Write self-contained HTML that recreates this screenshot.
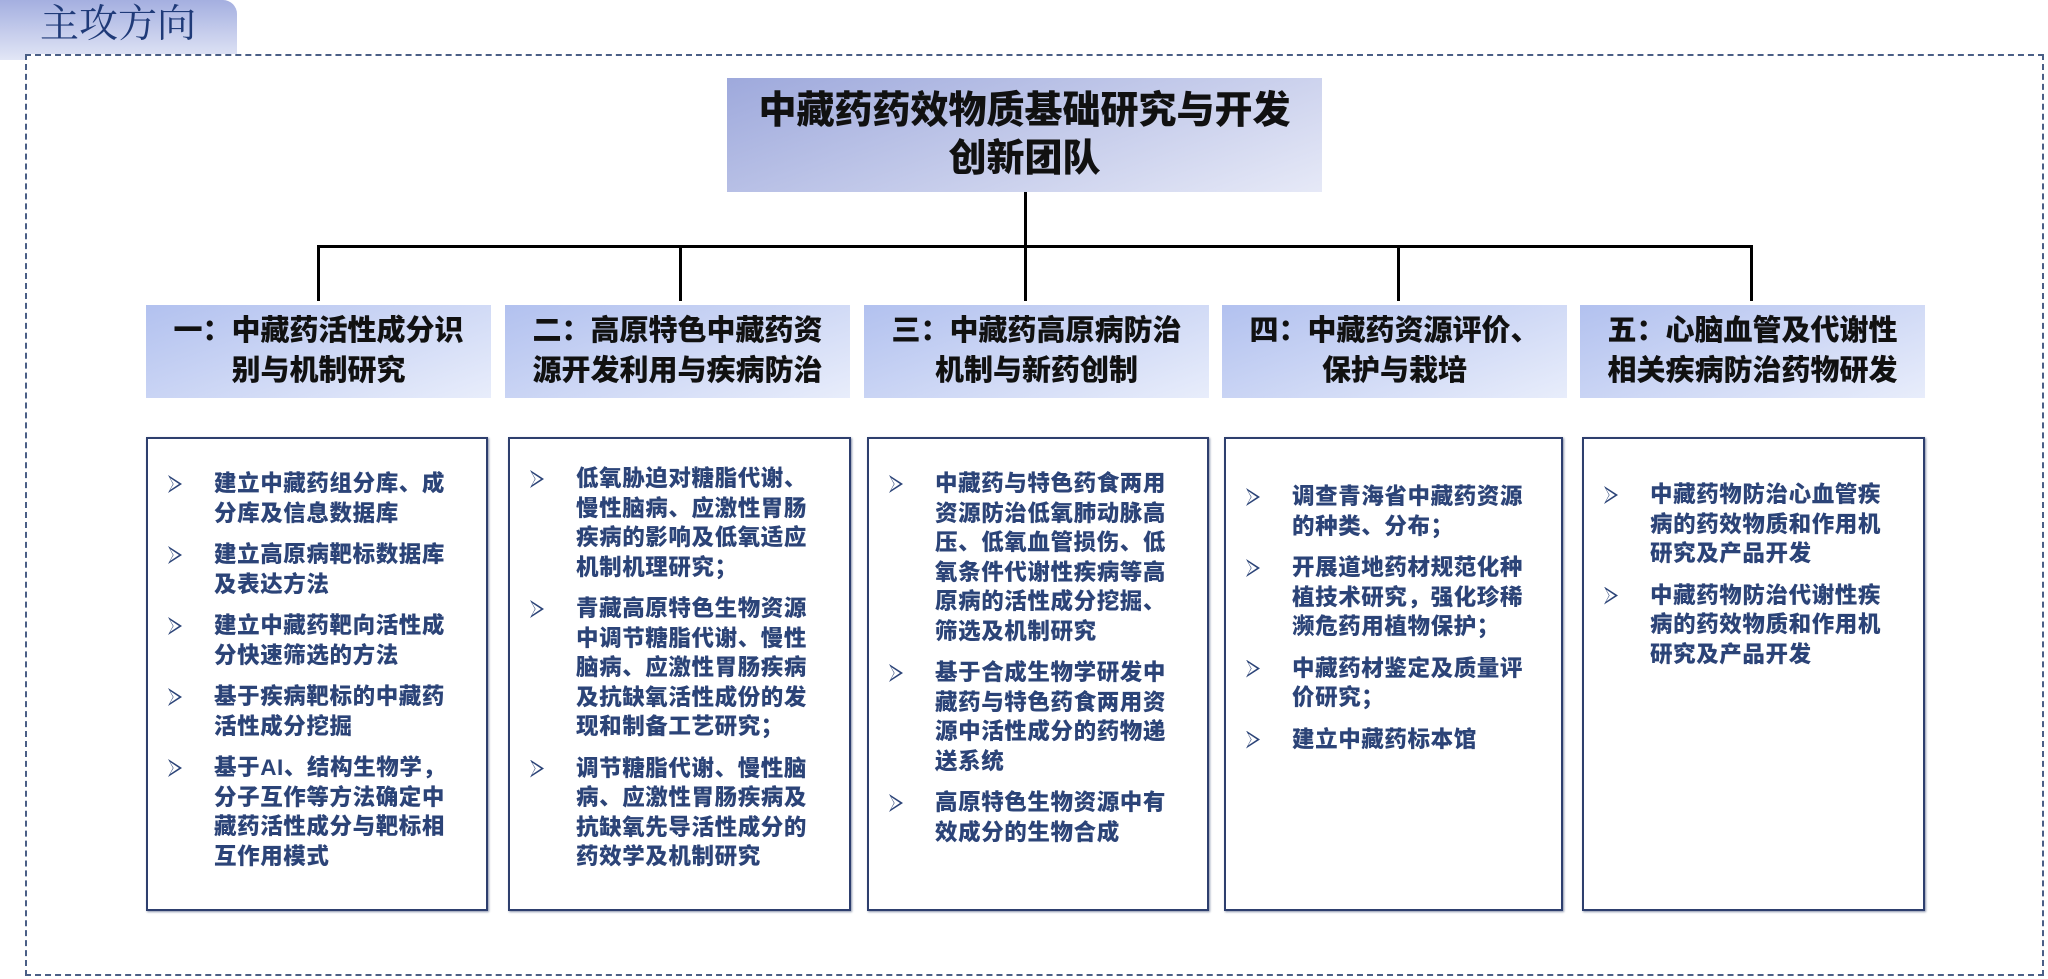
<!DOCTYPE html>
<html><head><meta charset="utf-8"><style>
*{margin:0;padding:0;box-sizing:border-box}
body{width:2048px;height:979px;background:#fff;position:relative;overflow:hidden;font-family:"Liberation Sans","Noto Sans CJK SC",sans-serif}
.tab{position:absolute;left:0;top:0;width:237px;height:60px;background:linear-gradient(180deg,#a4afe0,#e2e6f6);border-radius:0 14px 0 0}
.tab span{position:absolute;left:40px;top:0px;font-family:"Liberation Serif","Noto Serif CJK SC",serif;font-size:39px;line-height:50px;color:#1f3a78}
.frame{position:absolute;left:25px;top:54px;width:2019px;height:922px;border:2px dashed #4a5f86;background:#fff}
.title{position:absolute;left:727px;top:78px;width:595px;height:114px;background:linear-gradient(160deg,#9ea9dc,#e6e9f7);text-align:center;font-weight:900;font-size:38px;line-height:48px;padding-top:9px;color:#111}
.ln{position:absolute;background:#000}
.hd{position:absolute;top:305px;width:345px;height:93px;background:linear-gradient(160deg,#b2c1ef,#e8edfb);text-align:center;font-weight:900;font-size:29px;line-height:40px;padding-top:6px;color:#111}
.bx{position:absolute;top:437px;height:474px;border:2px solid #2e3f6e;box-shadow:1px 1px 2px #8892aa;padding:0 22px 0 20px}
.bx p{position:relative;padding-left:46px;font-weight:900;font-size:22.5px;line-height:29.5px;color:#2c4478;margin-bottom:12px;letter-spacing:0.6px}
.bx p:before{content:"";position:absolute;left:0;top:6px;width:14px;height:18px;background:#2c4478;clip-path:polygon(0 0,100% 50%,0 100%,35% 50%)}
.bx p:after{content:"";position:absolute;left:2px;top:9px;width:9px;height:12px;background:#fff;clip-path:polygon(0 0,100% 50%,0 100%,40% 50%)}
</style></head><body>
<div class="tab"><span>主攻方向</span></div>
<div class="frame"></div>
<div class="title">中藏药药效物质基础研究与开发<br>创新团队</div>
<div class="ln" style="left:1024px;top:192px;width:3px;height:55px"></div>
<div class="ln" style="left:317px;top:245px;width:1436px;height:3px"></div>
<div class="ln" style="left:317px;top:245px;width:3px;height:56px"></div>
<div class="ln" style="left:679px;top:245px;width:3px;height:56px"></div>
<div class="ln" style="left:1024px;top:245px;width:3px;height:56px"></div>
<div class="ln" style="left:1397px;top:245px;width:3px;height:56px"></div>
<div class="ln" style="left:1750px;top:245px;width:3px;height:56px"></div>

<div class="hd" style="left:146px">一：中藏药活性成分识<br>别与机制研究</div>
<div class="hd" style="left:505px">二：高原特色中藏药资<br>源开发利用与疾病防治</div>
<div class="hd" style="left:864px">三：中藏药高原病防治<br>机制与新药创制</div>
<div class="hd" style="left:1222px">四：中藏药资源评价、<br>保护与栽培</div>
<div class="hd" style="left:1580px">五：心脑血管及代谢性<br>相关疾病防治药物研发</div>

<div class="bx" style="left:146px;width:342px;padding-top:30px">
<p>建立中藏药组分库、成分库及信息数据库</p>
<p>建立高原病靶标数据库及表达方法</p>
<p>建立中藏药靶向活性成分快速筛选的方法</p>
<p>基于疾病靶标的中藏药活性成分挖掘</p>
<p>基于AI、结构生物学，分子互作等方法确定中藏药活性成分与靶标相互作用模式</p>
</div>
<div class="bx" style="left:508px;width:343px;padding-top:25px">
<p>低氧胁迫对糖脂代谢、慢性脑病、应激性胃肠疾病的影响及低氧适应机制机理研究；</p>
<p>青藏高原特色生物资源中调节糖脂代谢、慢性脑病、应激性胃肠疾病及抗缺氧活性成份的发现和制备工艺研究；</p>
<p>调节糖脂代谢、慢性脑病、应激性胃肠疾病及抗缺氧先导活性成分的药效学及机制研究</p>
</div>
<div class="bx" style="left:867px;width:342px;padding-top:30px">
<p>中藏药与特色药食两用资源防治低氧肺动脉高压、低氧血管损伤、低氧条件代谢性疾病等高原病的活性成分挖掘、筛选及机制研究</p>
<p>基于合成生物学研发中藏药与特色药食两用资源中活性成分的药物递送系统</p>
<p>高原特色生物资源中有效成分的生物合成</p>
</div>
<div class="bx" style="left:1224px;width:339px;padding-top:43px">
<p>调查青海省中藏药资源的种类、分布；</p>
<p>开展道地药材规范化种植技术研究，强化珍稀濒危药用植物保护；</p>
<p>中藏药材鉴定及质量评价研究；</p>
<p>建立中藏药标本馆</p>
</div>
<div class="bx" style="left:1582px;width:343px;padding-top:41px">
<p>中藏药物防治心血管疾病的药效物质和作用机研究及产品开发</p>
<p>中藏药物防治代谢性疾病的药效物质和作用机研究及产品开发</p>
</div>
</body></html>
